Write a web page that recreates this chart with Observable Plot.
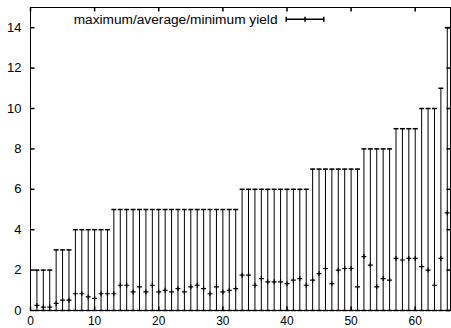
<!DOCTYPE html>
<html><head><meta charset="utf-8">
<script src="https://cdn.jsdelivr.net/npm/d3@7"></script>
<script src="https://cdn.jsdelivr.net/npm/@observablehq/plot@0.6"></script>
<style>body{margin:0;background:#fff}</style>
</head><body><div id="chart"></div>
<script>
const categories = [1,2,3,4,5,6,7,8,9,10,11,12,13,14,15,16,17,18,19,20,21,22,23,24,25,26,27,28,29,30,31,32,33,34,35,36,37,38,39,40,41,42,43,44,45,46,47,48,49,50,51,52,53,54,55,56,57,58,59,60,61,62,63,64,65];
const maxYield = [2,2,2,3,3,3,4,4,4,4,4,4,5,5,5,5,5,5,5,5,5,5,5,5,5,5,5,5,5,5,5,5,6,6,6,6,6,6,6,6,6,6,6,7,7,7,7,7,7,7,7,8,8,8,8,8,9,9,9,9,10,10,10,11,14];
const avgYield = [0.25,0.17,0.17,0.35,0.51,0.51,0.83,0.83,0.67,0.6,0.83,0.83,0.83,1.25,1.25,0.92,1.17,0.92,1.25,0.92,1.0,0.92,1.08,0.92,1.17,1.25,1.08,0.83,1.17,0.92,1.0,1.08,1.75,1.75,1.25,1.58,1.42,1.42,1.42,1.33,1.5,1.58,1.25,1.5,1.83,2.08,1.33,2.0,2.08,2.08,1.17,2.67,2.25,1.17,1.58,1.5,2.58,2.5,2.58,2.58,2.17,2.0,1.25,2.58,4.83];
const minYield = [0,0,0,0,0,0,0,0,0,0,0,0,0,0,0,0,0,0,0,0,0,0,0,0,0,0,0,0,0,0,0,0,0,0,0,0,0,0,0,0,0,0,0,0,0,0,0,0,0,0,0,0,0,0,0,0,0,0,0,0,0,0,0,0,0];
const xTicks = [0,10,20,30,40,50,60];
const yTicks = [0,2,4,6,8,10,12,14];
const legendLabel = "maximum/average/minimum yield";

const rows = categories.map((c, i) => ({x: c, min: minYield[i], avg: avgYield[i], max: maxYield[i]}));

const capSym = {draw(ctx){ ctx.moveTo(-2.5,0); ctx.lineTo(2.5,0); }};
const plusSym = {draw(ctx){ ctx.moveTo(-2.5,0); ctx.lineTo(2.5,0); ctx.moveTo(0,-2.5); ctx.lineTo(0,2.5); }};
const tUp = {draw(ctx){ ctx.moveTo(0,0); ctx.lineTo(0,-4); }};
const tDown = {draw(ctx){ ctx.moveTo(0,0); ctx.lineTo(0,4); }};
const tRight = {draw(ctx){ ctx.moveTo(0,0); ctx.lineTo(4,0); }};
const tLeft = {draw(ctx){ ctx.moveTo(0,0); ctx.lineTo(-4,0); }};
const legendSym = {draw(ctx){
  ctx.moveTo(-18.8,0); ctx.lineTo(18.8,0);
  ctx.moveTo(-18.8,-2.5); ctx.lineTo(-18.8,2.5);
  ctx.moveTo(18.8,-2.5); ctx.lineTo(18.8,2.5);
  ctx.moveTo(0,-2.5); ctx.lineTo(0,2.5);
}};

const chart = Plot.plot({
  width: 451, height: 328,
  marginLeft: 30, marginRight: 1, marginTop: 7, marginBottom: 18,
  style: {fontFamily: "'Liberation Sans', Arial, Helvetica, sans-serif", fontSize: "13px", color: "black", background: "white"},
  x: {domain: [0, 65.5]},
  y: {domain: [0, 15]},
  marks: [
    Plot.ruleX(rows, {x: "x", y1: "min", y2: "max", stroke: "black", strokeWidth: 1}),
    Plot.dot(rows, {x: "x", y: "max", symbol: capSym, stroke: "black", fill: "none", r: 3}),
    Plot.dot(rows, {x: "x", y: "min", symbol: capSym, stroke: "black", fill: "none", r: 3}),
    Plot.dot(rows, {x: "x", y: "avg", symbol: plusSym, stroke: "black", fill: "none", r: 3, strokeWidth: 1.2}),
    Plot.frame({stroke: "black", strokeWidth: 1}),
    Plot.dot(xTicks, {x: d => d, frameAnchor: "bottom", symbol: tUp, stroke: "black", r: 3}),
    Plot.dot(xTicks, {x: d => d, frameAnchor: "top", symbol: tDown, stroke: "black", r: 3}),
    Plot.dot(yTicks, {y: d => d, frameAnchor: "left", symbol: tRight, stroke: "black", r: 3}),
    Plot.dot(yTicks, {y: d => d, frameAnchor: "right", symbol: tLeft, stroke: "black", r: 3}),
    Plot.axisX({ticks: xTicks, tickSize: 0, tickPadding: 6, label: null, fontSize: 12}),
    Plot.axisY({ticks: yTicks, tickSize: 0, tickPadding: 9, label: null}),
    Plot.text([legendLabel], {text: d => d, frameAnchor: "top-right", textAnchor: "end", lineAnchor: "middle", dx: -173, dy: 11.7, fill: "black", fontSize: 13.7}),
    Plot.dot([legendLabel], {frameAnchor: "top-right", dx: -145.5, dy: 11.7, symbol: legendSym, stroke: "black", fill: "none", r: 3})
  ]
});
document.getElementById("chart").appendChild(chart);
</script>
</body></html>
